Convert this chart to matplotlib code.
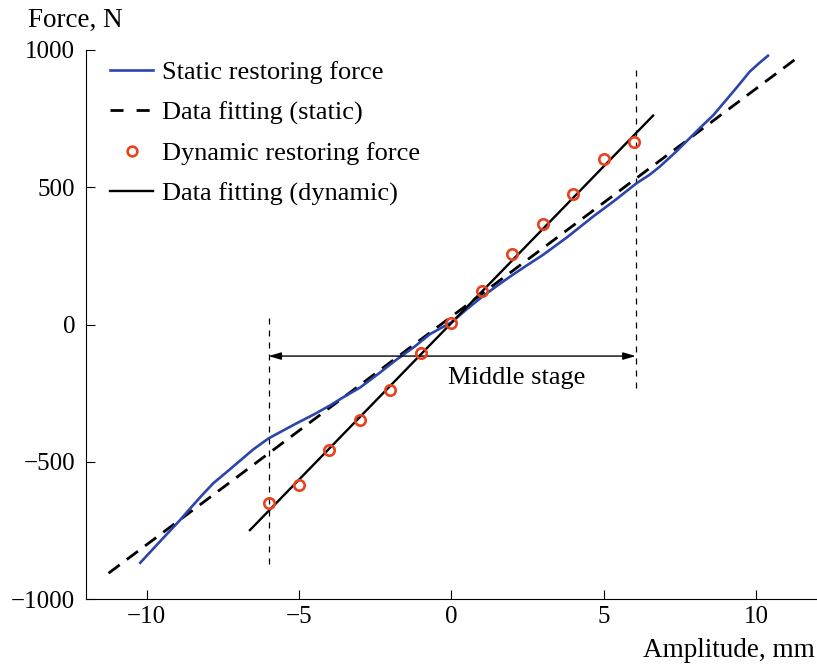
import matplotlib
matplotlib.use("Agg")
import matplotlib.pyplot as plt
from matplotlib.lines import Line2D

plt.rcParams['font.family'] = ['Liberation Serif', 'DejaVu Serif']
plt.rcParams['axes.unicode_minus'] = True

# Static restoring force curve (blue)
static_x = [-10.21, -9.6, -8.9, -8.57, -8.2, -7.81, -7.4, -7.04, -6.5, -6.0, -5.5, -5.08,
            -4.5, -4.0, -3.5, -3.0, -2.4, -1.8, -1.2, -0.7, 0.0, 0.5, 1.0, 1.5, 2.0,
            2.5, 3.0, 3.8, 4.65, 5.4, 6.07, 6.5, 6.84, 7.38, 8.15, 8.6, 9.02, 9.4,
            9.79, 10.1, 10.39]
static_y = [-868, -795, -712, -670, -624, -578, -540, -506, -455, -415, -385, -360,
            -327, -296, -262, -230, -180, -128, -80, -35, 8, 55, 100, 141, 180,
            217, 253, 318, 393, 455, 514, 545, 575, 630, 715, 763, 818, 868,
            921, 952, 979]

# Data fitting (static) line endpoints
static_fit_x = [-11.25, 11.37]
static_fit_y = [-906, 973]

# Dynamic restoring force points
dyn_x = [-6, -5, -4, -3, -2, -1, 0, 1, 2, 3, 4, 5, 6]
dyn_y = [-651, -585, -457, -348, -239, -105, 5, 123, 257, 366, 474, 602, 666]

# Data fitting (dynamic) line endpoints
dyn_fit_x = [-6.61, 6.62]
dyn_fit_y = [-749, 761]

# Middle stage markers
stage_left_x = [-6, -6]
stage_left_y = [24, -883]
stage_right_x = [6.05, 6.05]
stage_right_y = [927, -232]
arrow_y = -115

xticks = [-10, -5, 0, 5, 10]
yticks = [-1000, -500, 0, 500, 1000]

W, H = 817, 666
fig = plt.figure(figsize=(W / 100, H / 100), dpi=100)
ax = fig.add_axes([85.7 / W, 1 - 599 / H, (817 - 85.7) / W, (599 - 50) / H])

blue = '#2b45ad'
red = '#e8421e'

ax.plot(static_x, static_y, color=blue, lw=1.9, solid_joinstyle='round', zorder=3)
ax.plot(static_fit_x, static_fit_y, color='black', lw=2.0, ls=(0, (5, 3.2)), zorder=2)
ax.plot(dyn_fit_x, dyn_fit_y, color='black', lw=1.7, zorder=4)
ax.plot(dyn_x, dyn_y, ls='none', marker='o', ms=7.5, mfc='none', mec=red, mew=1.9, zorder=5)

ax.plot(stage_left_x, stage_left_y, color='black', lw=0.9, ls=(0, (4.8, 4.8)), zorder=1)
ax.plot(stage_right_x, stage_right_y, color='black', lw=0.9, ls=(0, (4.8, 4.8)), zorder=1)
ax.annotate('', xy=(stage_left_x[0], arrow_y), xytext=(stage_right_x[0], arrow_y),
            arrowprops=dict(arrowstyle='<|-|>,head_length=0.75,head_width=0.22',
                            lw=1.0, color='black', shrinkA=0, shrinkB=0,
                            mutation_scale=10))
ax.text(2.13, -195, 'Middle stage', fontsize=19, ha='center', va='center')

ax.set_xlim(-12, 12)
ax.set_ylim(-1000, 1000)
ax.set_xticks(xticks)
ax.set_yticks(yticks)
for s in ['top', 'right']:
    ax.spines[s].set_visible(False)
for s in ['left', 'bottom']:
    ax.spines[s].set_linewidth(0.8)
ax.tick_params(axis='both', direction='in', length=6.7, width=0.8, labelsize=18)
ax.tick_params(axis='y', pad=7.5)
ax.tick_params(axis='x', pad=5)

handles = [
    Line2D([], [], color=blue, lw=1.9),
    Line2D([], [], color='black', lw=2.0, ls=(0, (4.7, 4.7))),
    Line2D([], [], ls='none', marker='o', ms=7, mfc='none', mec=red, mew=1.9),
    Line2D([], [], color='black', lw=1.7),
]
labels = ['Static restoring force', 'Data fitting (static)',
          'Dynamic restoring force', 'Data fitting (dynamic)']
fig.legend(handles, labels, loc='upper left', bbox_to_anchor=(110 / W, 1 - 61 / H),
           frameon=False, fontsize=19, borderpad=0, borderaxespad=0,
           handlelength=1.63, handletextpad=0.33, labelspacing=0.63)

fig.text(28 / W, 1 - 27 / H, 'Force, N', fontsize=19.5, ha='left', va='baseline')
fig.text(815 / W, 1 - 657 / H, 'Amplitude, mm', fontsize=19.5, ha='right', va='baseline')

fig.savefig('out.png', dpi=100)
